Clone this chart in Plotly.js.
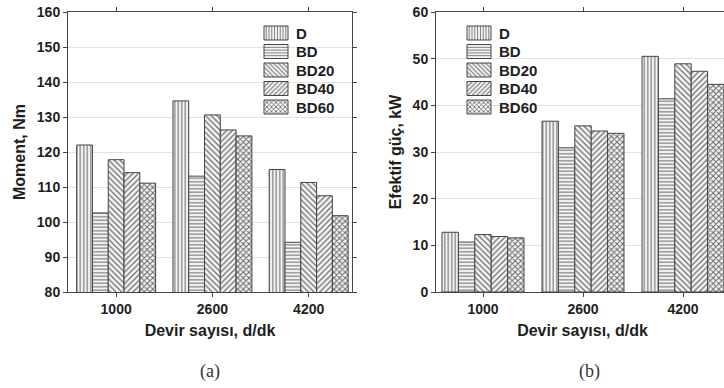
<!DOCTYPE html>
<html><head><meta charset="utf-8">
<script src="https://cdn.plot.ly/plotly-3.0.1.min.js"></script>
<style>html,body{margin:0;padding:0;overflow:hidden;background:#fff;}#c{width:740px;height:388px;}</style>
</head><body><div id="c"></div>
<script>
const categories = ['1000', '2600', '4200'];
const seriesNames = ['D', 'BD', 'BD20', 'BD40', 'BD60'];
const moment_D    = [122.0, 134.6, 115.0];
const moment_BD   = [102.6, 113.1, 94.2];
const moment_BD20 = [117.8, 130.6, 111.3];
const moment_BD40 = [114.1, 126.3, 107.5];
const moment_BD60 = [111.1, 124.6, 101.8];
const power_D    = [12.8, 36.6, 50.5];
const power_BD   = [10.7, 30.9, 41.4];
const power_BD20 = [12.3, 35.6, 48.9];
const power_BD40 = [11.9, 34.5, 47.3];
const power_BD60 = [11.6, 34.0, 44.5];
const yTicksA = [80, 90, 100, 110, 120, 130, 140, 150, 160];
const yTicksB = [0, 10, 20, 30, 40, 50, 60];

const momentSeries = [moment_D, moment_BD, moment_BD20, moment_BD40, moment_BD60];
const powerSeries = [power_D, power_BD, power_BD20, power_BD40, power_BD60];
const shapes = ['|', '-', '\\', '/', 'x'];
const W = 740;

const traces = [];
seriesNames.forEach((n, i) => {
  const marker = {
    color: '#f4f4f4',
    line: {color: '#444', width: 1},
    pattern: {shape: shapes[i], fgcolor: '#6a6a6a', bgcolor: '#f4f4f4', size: i < 2 ? 3.5 : 4, solidity: i === 4 ? 0.45 : 0.3}
  };
  traces.push({type: 'bar', name: n, x: categories, y: momentSeries[i], xaxis: 'x', yaxis: 'y', marker: marker, legend: 'legend'});
  traces.push({type: 'bar', name: n, x: categories, y: powerSeries[i], xaxis: 'x2', yaxis: 'y2', marker: marker, legend: 'legend2'});
});

const tickFont = {family: 'Liberation Sans, Arial', size: 14, color: '#1e1e1e', weight: 'bold'};
const titleFont = {family: 'Liberation Sans, Arial', size: 16, color: '#1e1e1e', weight: 'bold'};
const axisCommon = {
  showline: true, linecolor: '#444', linewidth: 1, mirror: 'ticks',
  ticks: 'outside', ticklen: 4, tickcolor: '#444',
  tickfont: tickFont, zeroline: false
};
const legendCommon = {
  font: {family: 'Liberation Sans, Arial', size: 15, color: '#1e1e1e', weight: 'bold'},
  bgcolor: 'rgba(0,0,0,0)', xanchor: 'left', yanchor: 'top', tracegroupgap: 0
};

const layout = {
  width: W, height: 388,
  margin: {l: 0, r: 0, t: 12, b: 96},
  paper_bgcolor: '#fff', plot_bgcolor: '#fff',
  barmode: 'group', bargap: 0.18, bargroupgap: 0,
  showlegend: true,
  xaxis: Object.assign({}, axisCommon, {domain: [68 / W, 352 / W], type: 'category', range: [-0.5, 2.45], showgrid: false,
    title: {text: 'Devir sayısı, d/dk', font: titleFont, standoff: 9}, anchor: 'y'}),
  yaxis: Object.assign({}, axisCommon, {range: [80, 160], tickvals: yTicksA, showgrid: true, gridcolor: '#e2e2e2',
    title: {text: 'Moment, Nm', font: titleFont, standoff: 7}, anchor: 'x'}),
  xaxis2: Object.assign({}, axisCommon, {domain: [436 / W, 729 / W], type: 'category', range: [-0.47, 2.46], showgrid: false,
    title: {text: 'Devir sayısı, d/dk', font: titleFont, standoff: 9}, anchor: 'y2'}),
  yaxis2: Object.assign({}, axisCommon, {range: [0, 60], tickvals: yTicksB, showgrid: true, gridcolor: '#e2e2e2',
    title: {text: 'Efektif güç, kW', font: titleFont, standoff: 7}, anchor: 'x2'}),
  legend: Object.assign({}, legendCommon, {x: 256 / W, y: 0.985}),
  legend2: Object.assign({}, legendCommon, {x: 459 / W, y: 0.985}),
  annotations: [
    {text: '(a)', xref: 'paper', yref: 'paper', x: 210 / W, y: -0.285, xanchor: 'center', yanchor: 'middle', showarrow: false,
     font: {family: 'Liberation Serif, Times New Roman', size: 18, color: '#333'}},
    {text: '(b)', xref: 'paper', yref: 'paper', x: 589 / W, y: -0.285, xanchor: 'center', yanchor: 'middle', showarrow: false,
     font: {family: 'Liberation Serif, Times New Roman', size: 18, color: '#333'}}
  ]
};

Plotly.newPlot('c', traces, layout, {staticPlot: true, displayModeBar: false}).then(gd => {
  const firstY = 33, step = 18.5;
  gd.querySelectorAll('.infolayer > g').forEach(leg => {
    const cls = leg.getAttribute('class') || '';
    if (!/^legend\d*$/.test(cls)) return;
    const items = Array.from(leg.querySelectorAll('g.traces'));
    items.forEach((g, i) => {
      const p = g.querySelector('.legendpoints path');
      if (p) p.setAttribute('d', 'M12,7H-12V-7H12Z');
      const r = (p || g).getBoundingClientRect();
      const cy = r.top + r.height / 2;
      const delta = firstY + i * step - cy;
      const t = g.getAttribute('transform') || 'translate(0,0)';
      const m = t.match(/translate\(\s*([-\d.e]+)[ ,]+([-\d.e]+)\s*\)/);
      if (m) g.setAttribute('transform', 'translate(' + m[1] + ',' + (parseFloat(m[2]) + delta) + ')');
    });
  });
});
</script></body></html>
